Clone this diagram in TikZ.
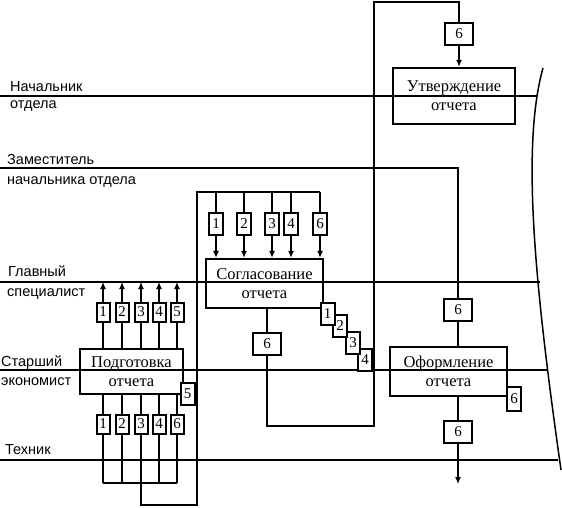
\documentclass[tikz,border=0pt]{standalone}
\usepackage{fontspec}
\setmainfont{Liberation Serif}
\newfontfamily\lanefont{Liberation Sans}
\usetikzlibrary{arrows.meta}

\begin{document}
\begin{tikzpicture}[x=1pt, y=-1pt,
        lane/.style={line width=1.5pt},
        flow/.style={line width=1.2pt},
        proc/.style={draw, line width=2.4pt, align=center, font=\fontsize{16.5}{19}\selectfont},
        doc/.style={draw, fill=white, line width=2pt, inner sep=0pt, minimum width=13pt, minimum height=19pt, font=\fontsize{15}{15}\selectfont},
        tdoc/.style={doc, minimum width=14pt, minimum height=22pt},
        wdoc/.style={doc, minimum width=28pt, minimum height=22pt},
        role/.style={anchor=base west, inner sep=0pt, font=\lanefont\fontsize{14.5}{15}\selectfont},
        >={Latex[length=7pt, width=6pt]}]
        \useasboundingbox (0,0) rectangle (562,507);

        % lanes
        \coordinate (l1) at (0,96);
        \coordinate (l2) at (0,168);
        \coordinate (l3) at (0,282);
        \coordinate (l4) at (0,370);
        \coordinate (l5) at (0,460);
        \draw[lane] (l1) -- (537,96);
        \draw[lane] (l3) -- (540,282);
        \draw[lane] (l4) -- (548,370);
        \draw[lane] (l5) -- (558,460);
        \draw[lane] (543,68) .. controls (520,150) and (537,300) .. (561,470);

        \node[role] (r1a) at (10,91) {Начальник};
        \node[role] (r1b) at (10,108) {отдела};
        \node[role] (r2a) at (7,164) {Заместитель};
        \node[role] (r2b) at (7,184) {начальника отдела};
        \node[role] (r3a) at (8,276) {Главный};
        \node[role] (r3b) at (7,296) {специалист};
        \node[role] (r4a) at (1,366) {Старший};
        \node[role] (r4b) at (1,385) {экономист};
        \node[role] (r5) at (5,454) {Техник};

        % processes
        \node[proc, minimum width=103pt, minimum height=45pt] (prep) at (131.5,371.5) {Подготовка\\отчета};
        \node[proc, minimum width=117pt, minimum height=49pt] (agree) at (264.5,283.5) {Согласование\\отчета};
        \node[proc, minimum width=122pt, minimum height=56pt] (approve) at (454,96) {Утверждение\\отчета};
        \node[proc, minimum width=117pt, minimum height=49pt] (form) at (448.5,371.5) {Оформление\\отчета};

        % documents
        \node[doc] (p1) at (103,312) {1};
        \node[doc] (p2) at (122,312) {2};
        \node[doc] (p3) at (141,312) {3};
        \node[doc] (p4) at (159,312) {4};
        \node[doc] (p5) at (177,312) {5};
        \node[doc] (q1) at (103,424) {1};
        \node[doc] (q2) at (122,424) {2};
        \node[doc] (q3) at (141,424) {3};
        \node[doc] (q4) at (159,424) {4};
        \node[doc] (q5) at (177,424) {6};
        \node[tdoc] (ps) at (187.5,393.5) {5};
        \node[tdoc] (a1) at (216,224) {1};
        \node[tdoc] (a2) at (244,224) {2};
        \node[tdoc] (a3) at (272,224) {3};
        \node[tdoc] (a4) at (291,224) {4};
        \node[tdoc] (a5) at (320,224) {6};
        \node[tdoc] (st4) at (365,359.5) {4};
        \node[tdoc] (st3) at (353,343) {3};
        \node[tdoc] (st2) at (340,326) {2};
        \node[tdoc] (st1) at (327.5,314) {1};
        \node[wdoc] (s6) at (267,343.5) {6};
        \node[wdoc] (u6) at (459,34) {6};
        \node[wdoc] (f6a) at (458,309.5) {6};
        \node[tdoc, minimum height=24pt] (f6r) at (514,399) {6};
        \node[wdoc] (f6b) at (458,432) {6};

        \coordinate (bus) at (0,483);
        \coordinate (bot) at (0,505);
        \coordinate (riser) at (197,192);
        \coordinate (ret) at (374,426);
        \coordinate (peak) at (374,2);
        \coordinate (fend) at (458,484);

        % Подготовка
        \draw[flow] (prep.north -| p1) -- (p1);
        \draw[flow] (prep.north -| p2) -- (p2);
        \draw[flow] (prep.north -| p3) -- (p3);
        \draw[flow] (prep.north -| p4) -- (p4);
        \draw[flow] (prep.north -| p5) -- (p5);
        \draw[flow, ->] (p1) -- (p1 |- l3);
        \draw[flow, ->] (p2) -- (p2 |- l3);
        \draw[flow, ->] (p3) -- (p3 |- l3);
        \draw[flow, ->] (p4) -- (p4 |- l3);
        \draw[flow, ->] (p5) -- (p5 |- l3);
        \draw[flow] (prep.south -| q1) -- (q1) -- (q1 |- bus);
        \draw[flow] (prep.south -| q2) -- (q2) -- (q2 |- bus);
        \draw[flow] (prep.south -| q3) -- (q3) -- (q3 |- bus);
        \draw[flow] (prep.south -| q4) -- (q4) -- (q4 |- bus);
        \draw[flow] (prep.south -| q5) -- (q5) -- (q5 |- bus);
        \draw[flow] (q1 |- bus) -- (q5 |- bus);
        \draw[flow] (q3 |- bus) -- (q3 |- bot) -| (riser) -- (a5 |- riser);

        % Согласование
        \draw[flow] (a1 |- riser) -- (a1);
        \draw[flow] (a2 |- riser) -- (a2);
        \draw[flow] (a3 |- riser) -- (a3);
        \draw[flow] (a4 |- riser) -- (a4);
        \draw[flow] (a5 |- riser) -- (a5);
        \draw[flow, ->] (a1) -- (a1 |- agree.north);
        \draw[flow, ->] (a2) -- (a2 |- agree.north);
        \draw[flow, ->] (a3) -- (a3 |- agree.north);
        \draw[flow, ->] (a4) -- (a4 |- agree.north);
        \draw[flow, ->] (a5) -- (a5 |- agree.north);
        \draw[flow] (agree.south -| s6) -- (s6);
        \draw[flow] (s6) |- (ret) -- (peak) -| (u6);

        % Утверждение, Оформление
        \draw[flow, ->] (u6) -- (u6 |- approve.north);
        \draw[lane] (l2) -| (f6a);
        \draw[flow] (f6a) -- (f6a |- form.north);
        \draw[flow] (form.south -| f6b) -- (f6b);
        \draw[flow, ->] (f6b) -- (fend);
    \end{tikzpicture}
\end{document}
